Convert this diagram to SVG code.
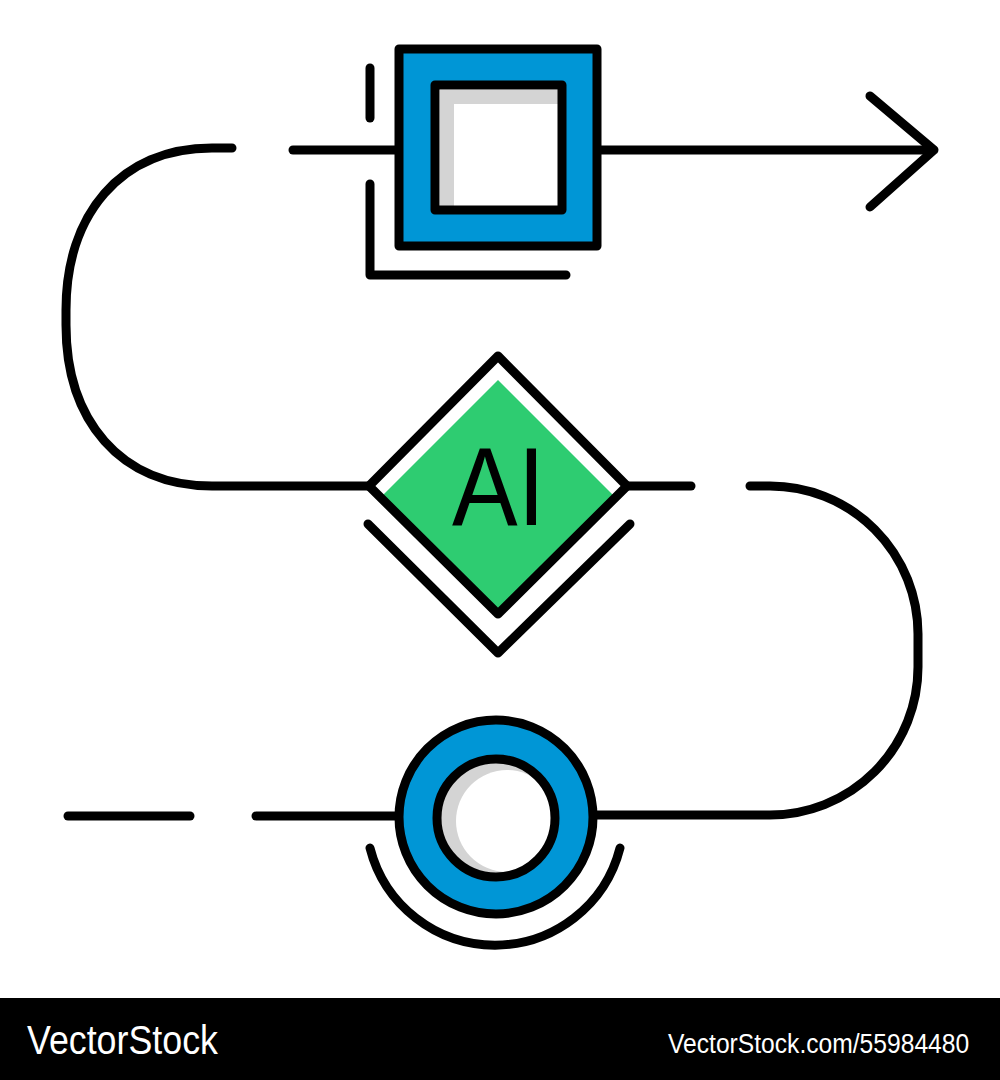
<svg xmlns="http://www.w3.org/2000/svg" width="1000" height="1080" viewBox="0 0 1000 1080">
<style>
.s{fill:none;stroke:#000;stroke-width:9;stroke-linecap:round;stroke-linejoin:round}
.b{fill:#0096D6}
.g{fill:#2ECC71}
.sh{fill:#D4D4D4}
.w{fill:#fff}
.ft{font-family:"Liberation Sans",Arial,sans-serif;fill:#fff}
</style>
<rect width="1000" height="1080" fill="#fff"/>
<g id="connectors">
<path class="s" d="M232,148 H212 C120,148 66,215 66,310 V325 C66,420 120,486 212,486 H369"/>
<path class="s" d="M293,150 H399"/>
<path class="s" d="M597,150 H933"/>
<path class="s" d="M870,96 L934,150 L870,207"/>
<path class="s" d="M627,486 H691"/>
<path class="s" d="M750,486 H770 A148 148 0 0 1 918 634 V667 A148 148 0 0 1 770 815 H592"/>
<path class="s" d="M68,816 H190"/>
<path class="s" d="M256,816 H400"/>
</g>
<g id="node-square">
<rect class="b" x="399" y="49" width="198" height="197"/>
<rect class="w" x="435" y="85" width="127" height="125"/>
<path class="sh" d="M440,90 H558 V104 H454 V206 H440 Z"/>
<rect class="s" x="435" y="85" width="127" height="125"/>
<rect class="s" x="399" y="49" width="198" height="197"/>
<path class="s" d="M370,68 V118"/>
<path class="s" d="M370,184 V275 H566"/>
</g>
<g id="node-ai">
<path class="g" d="M498,380 L613,495 L498,610 L383,495 Z"/>
<path class="s" d="M498,356 L627,486 L498,614 L369,486 Z"/>
<path class="s" d="M368,524 L498,653 L630,524"/>
<text x="452" y="525" font-family="'Liberation Sans',Arial,sans-serif" font-size="112" textLength="93" lengthAdjust="spacingAndGlyphs" fill="#000">AI</text>
</g>
<g id="node-circle">
<circle class="b" cx="496" cy="817" r="97"/>
<circle class="sh" cx="496" cy="818" r="59"/>
<circle class="w" cx="507" cy="821" r="51"/>
<circle class="s" cx="496" cy="818" r="59"/>
<circle class="s" cx="496" cy="817" r="97"/>
<path class="s" d="M370,848 A129 129 0 0 0 620 848"/>
</g>
<g id="footer">
<rect x="0" y="998" width="1000" height="82" fill="#000"/>
<text class="ft" transform="translate(27,1054) scale(0.895,1)" font-size="40">VectorStock</text>
<text class="ft" transform="translate(668,1053) scale(0.88,1)" font-size="28">VectorStock.com/55984480</text>
</g>
</svg>
